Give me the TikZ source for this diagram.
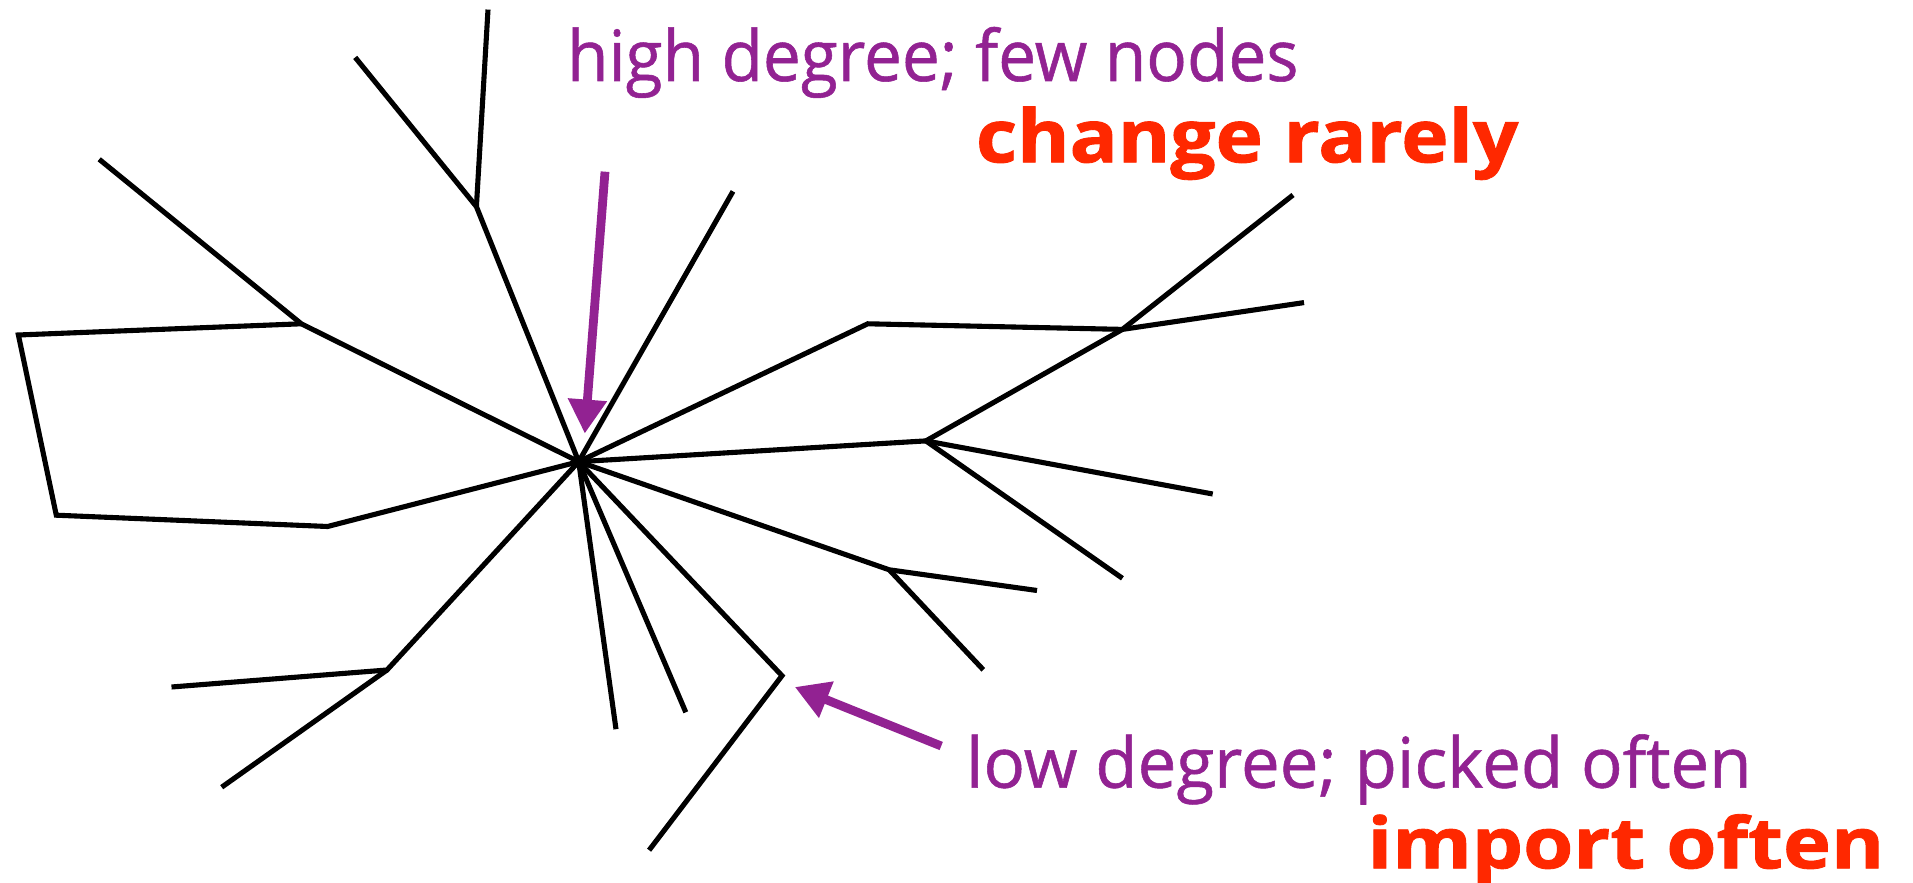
\documentclass[tikz,border=0pt]{standalone}
\usepackage{fontspec}
\setmainfont{Open Sans}
\newfontfamily\labelfont[FakeBold=0.8]{Open Sans}
\newfontfamily\heavyfont[FakeBold=1.2]{Open Sans Bold}
\usetikzlibrary{arrows.meta}
\definecolor{purp}{RGB}{146,34,146}
\definecolor{hot}{RGB}{255,40,0}
\begin{document}
\begin{tikzpicture}[x=0.01cm,y=-0.01cm,
  edge/.style={line width=1.45pt, line join=miter},
  pointer/.style={draw=purp, line width=2.5pt, -{Triangle[width=0.37cm,length=0.34cm]}},
  lbl/.style={anchor=base west, inner sep=0pt, outer sep=0pt}]
\useasboundingbox (0,0) rectangle (1913,883);
% graph points
\coordinate (h) at (578.7,461.7);
\coordinate (a) at (476.4,206.6);
\coordinate (a1) at (488,9.6);
\coordinate (a2) at (355.2,57.4);
\coordinate (b) at (301.3,323.8);
\coordinate (b1) at (99.2,159.3);
\coordinate (p1) at (18.4,335);
\coordinate (p2) at (56.3,515.2);
\coordinate (p3) at (327.6,526.5);
\coordinate (c1) at (733,191.4);
\coordinate (d) at (867.7,323.8);
\coordinate (e) at (1122.4,329.4);
\coordinate (e1) at (1293,195);
\coordinate (e2) at (1304,302.6);
\coordinate (f) at (925.9,440.9);
\coordinate (f1) at (1212.7,494);
\coordinate (f2) at (1122.4,578.3);
\coordinate (g) at (889.2,569.8);
\coordinate (g1) at (1037,590.5);
\coordinate (g2) at (983.3,669.8);
\coordinate (k) at (782,675.7);
\coordinate (k1) at (649.1,850.2);
\coordinate (m1) at (685.8,712.3);
\coordinate (m2) at (616,729.2);
\coordinate (n) at (387,670);
\coordinate (n1) at (171.5,687);
\coordinate (n2) at (221.7,787.2);
% edges
\draw[edge] (a1) -- (a) -- (h);
\draw[edge] (a2) -- (a);
\draw[edge] (b1) -- (b) -- (h);
\draw[edge] (b) -- (p1) -- (p2) -- (p3) -- (h);
\draw[edge] (h) -- (c1);
\draw[edge] (h) -- (d) -- (e) -- (e1);
\draw[edge] (e) -- (e2);
\draw[edge] (f) -- (e);
\draw[edge] (h) -- (f) -- (f1);
\draw[edge] (f) -- (f2);
\draw[edge] (h) -- (g) -- (g1);
\draw[edge] (g) -- (g2);
\draw[edge] (h) -- (k) -- (k1);
\draw[edge] (h) -- (m1);
\draw[edge] (h) -- (m2);
\draw[edge] (h) -- (n) -- (n1);
\draw[edge] (n) -- (n2);
% pointers
\coordinate (q1) at (605,171.7);
\coordinate (q1t) at (584.8,433.6);
\coordinate (q2) at (941.2,746);
\coordinate (q2t) at (794.8,687);
\draw[pointer] (q1) -- (q1t);
\draw[pointer] (q2) -- (q2t);
% labels
\node[lbl] (t1) at (567,81) {\resizebox{7.31cm}{0.54cm}{\color{purp}\labelfont high degree; few nodes}};
\node[lbl] (t2) at (976,162.3) {\resizebox{5.42cm}{0.556cm}{\color{hot}\heavyfont change rarely}};
\node[lbl] (t3) at (966,787.7) {\resizebox{7.85cm}{0.534cm}{\color{purp}\labelfont low degree; picked often}};
\node[lbl] (t4) at (1367.5,868.3) {\resizebox{5.165cm}{0.54cm}{\color{hot}\heavyfont import often}};
\end{tikzpicture}
\end{document}
